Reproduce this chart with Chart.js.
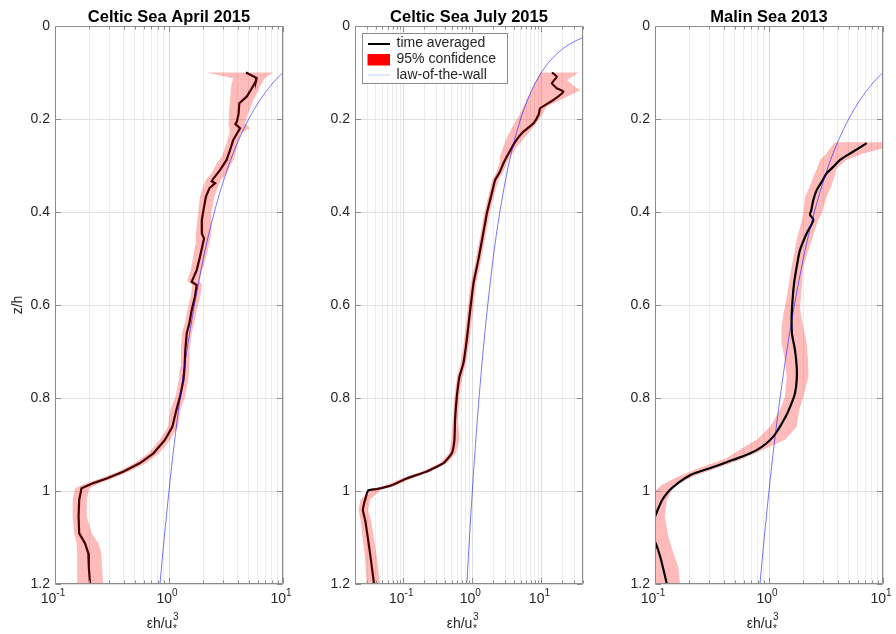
<!DOCTYPE html>
<html>
<head>
<meta charset="utf-8">
<script src="https://cdn.jsdelivr.net/npm/chart.js@4.4.1/dist/chart.umd.min.js"></script>
<style>
  html, body { margin: 0; padding: 0; background: #fff; }
  #wrap { position: relative; width: 896px; height: 634px; overflow: hidden; }
  canvas { position: absolute; top: 0; }
</style>
</head>
<body>
<div id="wrap">
  <canvas id="p1" width="300" height="634" style="left:0px"></canvas>
  <canvas id="p2" width="300" height="634" style="left:300px"></canvas>
  <canvas id="p3" width="296" height="634" style="left:600px"></canvas>
</div>
<script>
// ---- Celtic Sea April 2015: time-averaged profile (z/h, eps*h/u*^3)
const aprZ   = [0.100,0.112,0.118,0.135,0.152,0.166,0.188,0.205,0.211,0.220,0.245,0.267,0.288,0.310,0.328,0.334,0.338,0.349,0.367,0.389,0.417,0.446,0.457,0.476,0.496,0.525,0.550,0.557,0.582,0.611,0.639,0.661,0.697,0.733,0.761,0.797,0.826,0.862,0.890,0.919,0.940,0.958,0.973,0.983,0.994,1.019,1.055,1.091,1.112,1.134,1.163,1.200];
const aprEps = [4.73,5.88,5.80,5.30,4.80,4.14,4.08,3.95,3.82,4.20,3.66,3.43,3.20,2.80,2.45,2.37,2.54,2.26,2.11,2.03,1.94,1.94,2.03,1.95,1.87,1.75,1.58,1.75,1.69,1.58,1.51,1.43,1.39,1.37,1.34,1.25,1.16,1.07,0.92,0.73,0.557,0.40,0.284,0.217,0.171,0.163,0.161,0.163,0.183,0.196,0.198,0.203];
// 95% confidence bounds
const aprBandZ = [0.100,0.1125,0.130,0.159,0.188,0.209,0.220,0.230,0.252,0.281,0.295,0.317,0.331,0.345,0.367,0.403,0.446,0.470,0.500,0.525,0.548,0.557,0.582,0.611,0.639,0.661,0.697,0.733,0.761,0.797,0.826,0.862,0.890,0.919,0.940,0.958,0.973,0.983,0.994,1.019,1.055,1.091,1.112,1.134,1.163,1.200];
const aprLo    = [2.11,3.66,3.5,3.43,3.35,3.3,3.4,3.4,3.2,2.9,2.63,2.35,2.1,2.0,1.87,1.8,1.72,1.7,1.62,1.55,1.45,1.6,1.55,1.45,1.38,1.3,1.27,1.25,1.22,1.14,1.03,0.98,0.83,0.66,0.5,0.36,0.25,0.19,0.15,0.143,0.143,0.147,0.155,0.156,0.157,0.157];
const aprHi    = [8.2,6.9,6.3,5.5,4.95,4.64,5.1,4.3,4.0,3.78,3.55,3.2,2.85,2.7,2.5,2.35,2.35,2.25,2.1,1.95,1.85,1.95,1.88,1.75,1.66,1.58,1.52,1.5,1.48,1.38,1.26,1.2,1.02,0.82,0.63,0.45,0.32,0.25,0.2,0.19,0.19,0.21,0.24,0.255,0.258,0.265];

// ---- Celtic Sea July 2015
const julZ   = [0.100,0.109,0.123,0.134,0.141,0.159,0.177,0.191,0.209,0.227,0.249,0.274,0.295,0.313,0.331,0.360,0.403,0.424,0.503,0.553,0.611,0.675,0.725,0.754,0.797,0.847,0.890,0.919,0.940,0.958,0.973,0.989,0.996,0.999,1.019,1.041,1.062,1.105,1.148,1.200];
const julEps = [14.2,16.7,14.2,16.7,20.9,15.0,9.6,9.1,7.7,5.5,4.17,3.34,2.82,2.52,2.14,1.91,1.62,1.53,1.22,1.04,0.93,0.83,0.743,0.652,0.596,0.562,0.55,0.504,0.381,0.219,0.112,0.064,0.041,0.031,0.028,0.026,0.028,0.031,0.034,0.0377];
const julBandZ = [0.100,0.116,0.130,0.138,0.156,0.173,0.191,0.213,0.234,0.260,0.281,0.295,0.313,0.331,0.360,0.403,0.424,0.503,0.553,0.611,0.675,0.725,0.754,0.797,0.847,0.890,0.919,0.940,0.958,0.973,0.989,0.996,1.019,1.041,1.062,1.105,1.148,1.200];
const julLo    = [9.6,8.5,7.7,7.2,6.3,5.5,4.8,3.94,3.3,2.8,2.5,2.45,2.25,1.95,1.74,1.48,1.4,1.12,0.95,0.85,0.76,0.68,0.6,0.55,0.52,0.5,0.46,0.34,0.19,0.095,0.053,0.035,0.024,0.0225,0.024,0.026,0.028,0.0295];
const julHi    = [34.5,23.4,30,36.5,20.9,12,10.2,8.1,6.15,4.4,3.52,3.15,2.8,2.4,2.1,1.78,1.68,1.34,1.14,1.02,0.91,0.81,0.72,0.65,0.62,0.65,0.58,0.43,0.25,0.13,0.075,0.048,0.033,0.031,0.034,0.038,0.042,0.046];

// ---- Malin Sea 2013
const malZ   = [0.252,0.270,0.288,0.303,0.317,0.335,0.353,0.374,0.396,0.406,0.417,0.446,0.482,0.518,0.553,0.589,0.625,0.661,0.697,0.733,0.761,0.790,0.811,0.840,0.883,0.912,0.933,0.951,0.966,0.994,1.016,1.037,1.055,1.075,1.092,1.109,1.141,1.200];
const malEps = [7.2,5.5,4.2,3.66,3.2,2.9,2.62,2.45,2.35,2.29,2.45,2.14,1.87,1.75,1.66,1.61,1.58,1.59,1.69,1.75,1.75,1.69,1.58,1.40,1.09,0.78,0.486,0.303,0.203,0.14,0.118,0.107,0.1,0.09,0.09,0.1,0.111,0.127];
const malBandZ = [0.250,0.260,0.274,0.288,0.306,0.324,0.346,0.367,0.403,0.417,0.460,0.518,0.561,0.604,0.618,0.647,0.682,0.718,0.754,0.797,0.826,0.862,0.890,0.908,0.930,0.951,0.969,0.987,1.000,1.019,1.055,1.098,1.134,1.163,1.200];
const malLo    = [3.79,3.5,3.2,2.8,2.65,2.45,2.27,2.07,2.0,1.94,1.75,1.58,1.48,1.38,1.34,1.29,1.29,1.38,1.43,1.38,1.25,1.02,0.78,0.58,0.42,0.24,0.16,0.114,0.1,0.085,0.08,0.08,0.08,0.08,0.08];
const malHi    = [12,11,6.7,4.8,3.93,3.75,3.5,3.2,2.9,2.7,2.37,2.0,1.94,1.87,1.9,2.0,2.14,2.2,2.22,2.0,1.84,1.75,1.38,0.95,0.6,0.347,0.216,0.155,0.14,0.127,0.122,0.131,0.145,0.16,0.166];

// ---- law-of-the-wall reference curve
const wallZ   = [0.025,0.03,0.035,0.04,0.045,0.05,0.06,0.07,0.08,0.09,0.1,0.11,0.12,0.13,0.14,0.16,0.18,0.2,0.22,0.25,0.28,0.3,0.35,0.4,0.45,0.5,0.6,0.7,0.8,0.9,1.0,1.1,1.2];
const wallEps = [40,33.3,28.6,25,22.2,20,16.7,14.3,12.5,11.1,10,9.09,8.33,7.69,7.14,6.25,5.56,5,4.55,4,3.57,3.33,2.86,2.5,2.22,2,1.67,1.43,1.25,1.11,1,0.909,0.833];

// ---- axis ticks
const yTickValues = [0, 0.2, 0.4, 0.6, 0.8, 1.0, 1.2];
const yTickLabels = ['0', '0.2', '0.4', '0.6', '0.8', '1', '1.2'];
const xDecades    = [0.1, 1, 10];
const xExponents  = ['-1', '0', '1'];

const FONT = '"Liberation Sans", Arial, Helvetica, sans-serif';
const TEXT = '#262626';
const BOX  = '#8c8c8c';
const BAND = 'rgba(255,0,0,0.27)';
const WALL = 'rgba(0,0,255,0.6)';

const pts = (xs, zs) => zs.map((z, i) => ({ x: xs[i], y: z }));
const bandPolygon = (zs, lo, hi) => pts(hi, zs).concat(pts(lo, zs).reverse());
const isDecade = v => Math.abs(Math.log10(v) - Math.round(Math.log10(v))) < 1e-9;
function logGrid(min, max) {
  const out = [];
  for (let e = Math.floor(Math.log10(min)); e <= Math.ceil(Math.log10(max)); e++) {
    for (let m = 1; m <= 9; m++) {
      const v = m * Math.pow(10, e);
      if (v >= min * 0.9999 && v <= max * 1.0001) out.push(v);
    }
  }
  return out;
}

// frame, ticks, labels, title and legend in the MATLAB style
const frame = {
  id: 'frame',
  afterDraw(chart, args, o) {
    const ctx = chart.ctx, a = chart.chartArea;
    const xs = chart.scales.x, ys = chart.scales.y;
    const L = Math.round(a.left) + 0.5, R = Math.round(a.right) - 0.5;
    const T = Math.round(a.top) + 0.5, B = Math.round(a.bottom) - 0.5;
    ctx.save();
    ctx.strokeStyle = BOX; ctx.lineWidth = 1;
    ctx.beginPath();
    ctx.rect(L, T, R - L, B - T);
    for (const v of yTickValues) {
      const y = Math.round(ys.getPixelForValue(v)) + 0.5;
      ctx.moveTo(L, y); ctx.lineTo(L + 5.5, y);
      ctx.moveTo(R, y); ctx.lineTo(R - 5.5, y);
    }
    for (const v of o.grid) {
      const len = isDecade(v) ? 5.5 : 3;
      const x = Math.round(xs.getPixelForValue(v)) + 0.5;
      ctx.moveTo(x, B); ctx.lineTo(x, B - len);
      ctx.moveTo(x, T); ctx.lineTo(x, T + len);
    }
    ctx.stroke();

    ctx.fillStyle = TEXT;
    // y tick labels
    ctx.font = '14px ' + FONT;
    ctx.textAlign = 'right'; ctx.textBaseline = 'middle';
    yTickValues.forEach((v, i) => ctx.fillText(yTickLabels[i], a.left - 5, ys.getPixelForValue(v) + 0.5));
    // x tick labels 10^n
    ctx.textAlign = 'left'; ctx.textBaseline = 'alphabetic';
    xDecades.forEach((v, i) => {
      const cx = xs.getPixelForValue(v) - 2;
      ctx.font = '14px ' + FONT; const wb = ctx.measureText('10').width;
      ctx.font = '10px ' + FONT; const we = ctx.measureText(xExponents[i]).width;
      const left = cx - (wb + we) / 2;
      ctx.font = '14px ' + FONT; ctx.fillText('10', left, 603);
      ctx.font = '10px ' + FONT; ctx.fillText(xExponents[i], left + wb, 596);
    });
    // x axis label  εh/u*^3
    const cxA = (a.left + a.right) / 2;
    ctx.font = '14px ' + FONT;
    const lx = cxA - 22.3;
    ctx.fillText('εh/u', lx, 628);
    const wl = ctx.measureText('εh/u').width;
    ctx.font = '10px ' + FONT;
    ctx.fillText('3', lx + wl + 0.5, 620);
    ctx.fillText('*', lx + wl + 0.5, 632);
    // title
    ctx.font = 'bold 16.5px ' + FONT;
    ctx.textAlign = 'center';
    ctx.fillStyle = '#000';
    ctx.fillText(o.title, cxA, 21.5);
    // y axis label
    if (o.yLabel) {
      ctx.save();
      ctx.translate(21.5, (a.top + a.bottom) / 2);
      ctx.rotate(-Math.PI / 2);
      ctx.font = '14px ' + FONT; ctx.fillStyle = TEXT;
      ctx.textAlign = 'center';
      ctx.fillText(o.yLabel, 0, 0);
      ctx.restore();
    }
    // legend
    if (o.legend) {
      const bx = 62.5, by = 33.5, bw = 145, bh = 50;
      ctx.fillStyle = '#fff'; ctx.fillRect(bx, by, bw, bh);
      ctx.strokeStyle = BOX; ctx.lineWidth = 1; ctx.strokeRect(bx, by, bw, bh);
      ctx.strokeStyle = '#000'; ctx.lineWidth = 2;
      ctx.beginPath(); ctx.moveTo(68, 44); ctx.lineTo(90, 44); ctx.stroke();
      ctx.fillStyle = '#ff0000'; ctx.fillRect(67.5, 54, 22.5, 11.5);
      ctx.strokeStyle = '#b9d3f0'; ctx.lineWidth = 1;
      ctx.beginPath(); ctx.moveTo(68, 75); ctx.lineTo(90, 75); ctx.stroke();
      ctx.fillStyle = TEXT; ctx.font = '14px ' + FONT;
      ctx.textAlign = 'left'; ctx.textBaseline = 'middle';
      ctx.fillText('time averaged', 96.5, 43.5);
      ctx.fillText('95% confidence', 96.5, 59.5);
      ctx.fillText('law-of-the-wall', 96.5, 75);
    }
    ctx.restore();
  }
};

function makePanel(id, cfg) {
  const grid = logGrid(cfg.xmin, cfg.xmax);
  const wall = { data: pts(wallEps, wallZ), borderColor: WALL, borderWidth: 0.9, pointRadius: 0, fill: false, tension: 0.3 };
  const band = { data: bandPolygon(cfg.bandZ, cfg.lo, cfg.hi), borderWidth: 0, backgroundColor: BAND, pointRadius: 0, fill: 'shape' };
  const mean = { data: pts(cfg.eps, cfg.z), borderColor: '#000', borderWidth: 2.2, pointRadius: 0, fill: false, tension: cfg.smooth };
  // first dataset is painted last
  const datasets = cfg.bandOnTop ? [wall, band, mean] : [wall, mean, band];
  return new Chart(document.getElementById(id), {
    type: 'line',
    data: { datasets },
    plugins: [frame],
    options: {
      responsive: false,
      devicePixelRatio: 1,
      animation: false,
      events: [],
      layout: { padding: { left: 55, right: cfg.padRight, top: 26, bottom: 50 } },
      scales: {
        x: {
          type: 'logarithmic', min: cfg.xmin, max: cfg.xmax,
          border: { display: false },
          grid: { drawTicks: false, lineWidth: 1, color: c => isDecade(c.tick.value) ? '#dcdcdc' : '#ececec' },
          ticks: { display: false },
          afterBuildTicks: s => { s.ticks = grid.map(v => ({ value: v })); }
        },
        y: {
          type: 'linear', reverse: true, min: 0, max: 1.2,
          border: { display: false },
          grid: { drawTicks: false, lineWidth: 1, color: '#e0e0e0' },
          ticks: { display: false },
          afterBuildTicks: s => { s.ticks = yTickValues.map(v => ({ value: v })); }
        }
      },
      plugins: {
        legend: { display: false },
        tooltip: { enabled: false },
        frame: { title: cfg.title, yLabel: cfg.yLabel, legend: cfg.legend, grid }
      }
    }
  });
}

makePanel('p1', { title: 'Celtic Sea April 2015', yLabel: 'z/h', legend: false, xmin: 0.1, xmax: 10, padRight: 17,
  z: aprZ, eps: aprEps, bandZ: aprBandZ, lo: aprLo, hi: aprHi, bandOnTop: true, smooth: 0 });
makePanel('p2', { title: 'Celtic Sea July 2015', yLabel: null, legend: true, xmin: 0.02, xmax: 40, padRight: 17,
  z: julZ, eps: julEps, bandZ: julBandZ, lo: julLo, hi: julHi, bandOnTop: true, smooth: 0.15 });
makePanel('p3', { title: 'Malin Sea 2013', yLabel: null, legend: false, xmin: 0.1, xmax: 10, padRight: 13,
  z: malZ, eps: malEps, bandZ: malBandZ, lo: malLo, hi: malHi, bandOnTop: false, smooth: 0.3 });
</script>
</body>
</html>
